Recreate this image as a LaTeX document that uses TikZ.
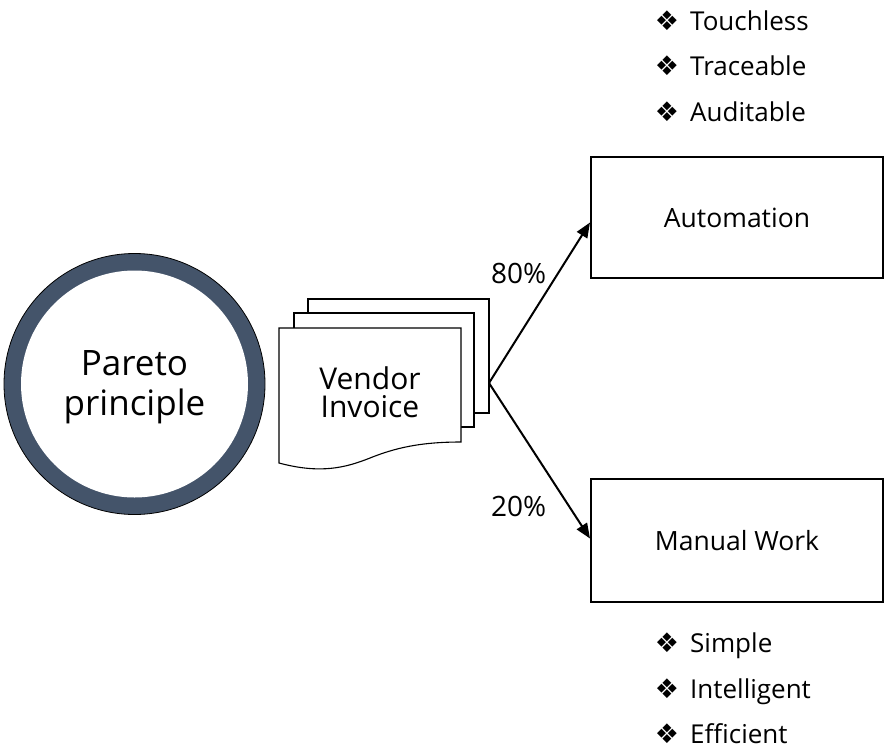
\documentclass[tikz,border=0pt]{standalone}
\usepackage{fontspec}
\setmainfont{Open Sans}
\newfontfamily\symfont{DejaVu Sans}
\usetikzlibrary{arrows.meta,calc}
\definecolor{ringblue}{HTML}{44546A}
\begin{document}
\begin{tikzpicture}[x=1pt,y=-1pt,
  box/.style={draw=black,line width=2pt,fill=white,minimum width=292pt,inner sep=0pt,
    font=\fontsize{26.5}{30}\selectfont},
  docpage/.style={draw=black,line width=1.1pt,fill=white},
  flow/.style={draw=black,line width=2pt,-{Triangle[length=15pt,width=12pt]}},
  pct/.style={anchor=base west,inner sep=0pt,font=\fontsize{28}{30}\selectfont},
  item/.style={anchor=base west,inner sep=0pt,font=\fontsize{26}{30}\selectfont},
  bul/.style={anchor=center,inner sep=0pt,font=\symfont\fontsize{27}{30}\selectfont}]
\useasboundingbox (0,0) rectangle (889,750);

% ring round the principle
\fill[ringblue,draw=black,line width=0.8pt] (134.5,384) circle (130.5pt);
\fill[white] (134.5,384) circle (113.5pt);
\node[align=center,inner sep=0pt,font=\fontsize{35}{40}\selectfont] (pareto) at (134.5,387) {Pareto\\principle};

% stack of invoices
\draw[docpage] (308,299) rectangle (489,413);
\draw[docpage] (294,313) rectangle (474,427);
\draw[docpage] (279,328) -- (461,328) -- (461,442)
  .. controls (420,442) and (395,448) .. (370,458)
  .. controls (345,468) and (320,474) .. (279,463) -- cycle;
\node[align=center,inner sep=0pt,font=\fontsize{30}{28}\selectfont] (inv) at (370,392) {Vendor\\Invoice};
\coordinate (fork) at (489,383);

% outcomes
\node[box,minimum height=121pt] (auto) at (737,217.5) {Automation};
\node[box,minimum height=123pt] (man) at (737,540.5) {Manual Work};

\draw[flow] (fork) -- ($(auto.west)+(0,5)$);
\draw[flow] (fork) -- ($(man.west)+(0,-2)$);
\node[pct] (p80) at (491,283) {80\%};
\node[pct] (p20) at (491,516) {20\%};

% qualities of each route
\node[bul] (b1) at (667,21) {❖};
\node[item] (t1) at (690,30) {Touchless};
\node[bul] (b2) at (667,66) {❖};
\node[item] (t2) at (690,75) {Traceable};
\node[bul] (b3) at (667,112) {❖};
\node[item] (t3) at (690,121) {Auditable};

\node[bul] (b4) at (667,643) {❖};
\node[item] (t4) at (690,652) {Simple};
\node[bul] (b5) at (667,689) {❖};
\node[item] (t5) at (690,698) {Intelligent};
\node[bul] (b6) at (667,734) {❖};
\node[item,text depth=0pt] (t6) at (690,743) {Efficient};
\end{tikzpicture}
\end{document}
